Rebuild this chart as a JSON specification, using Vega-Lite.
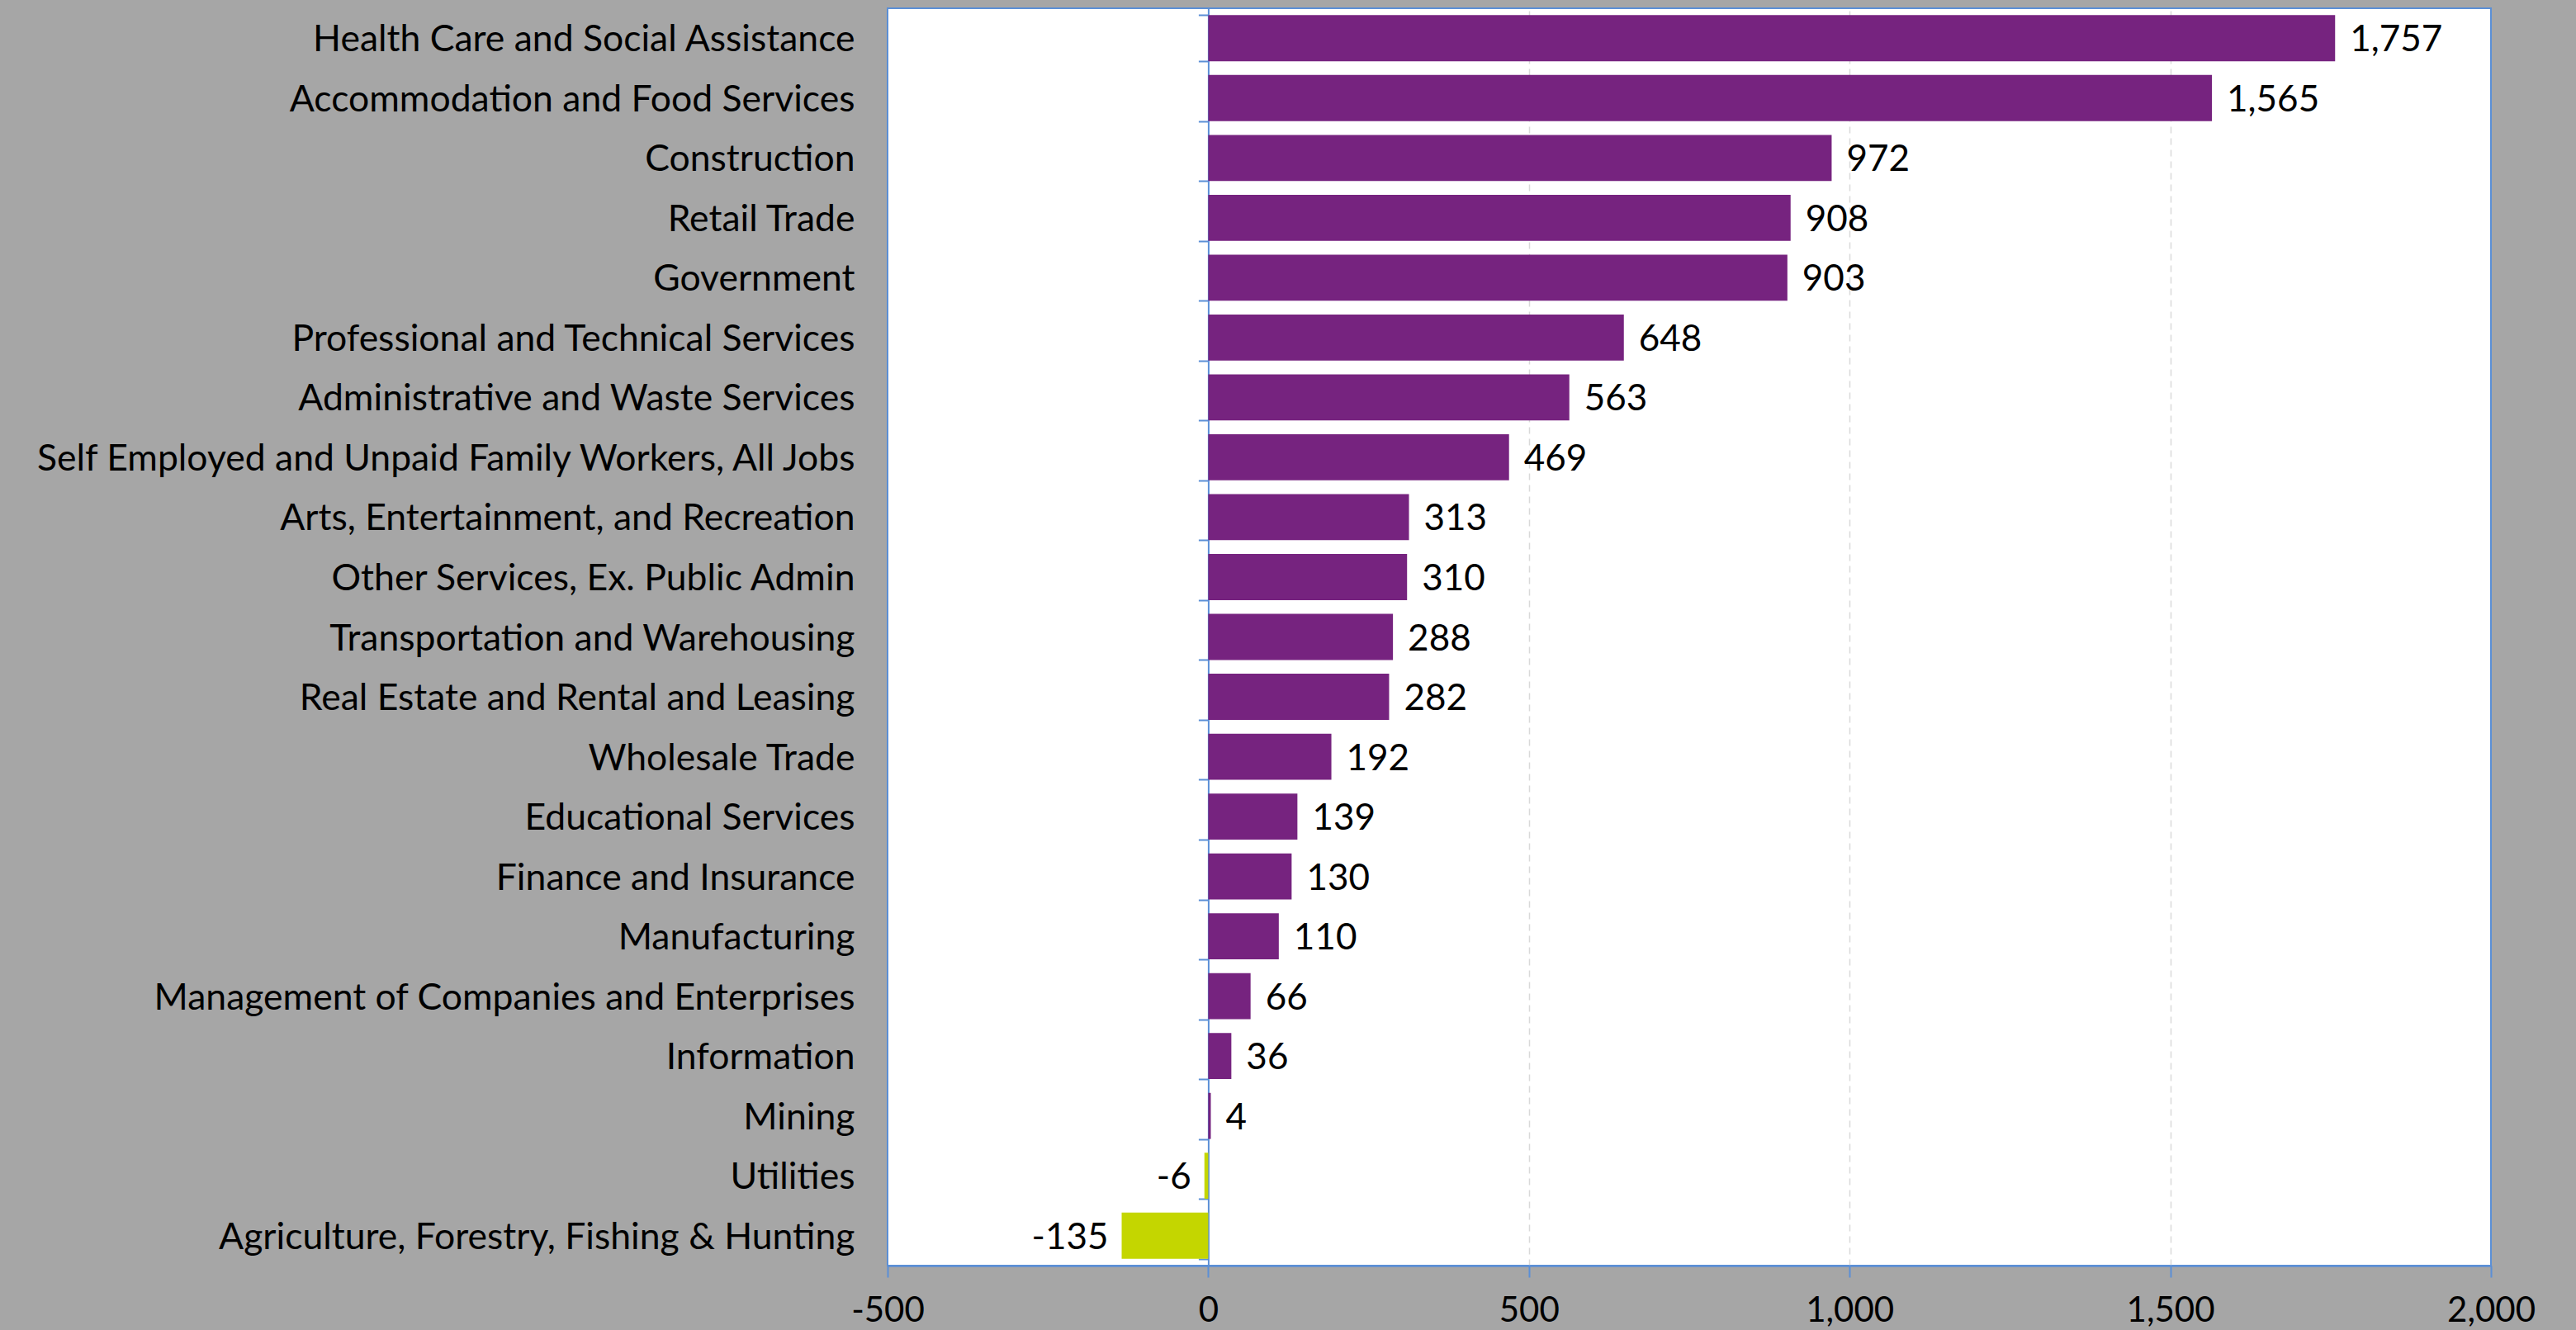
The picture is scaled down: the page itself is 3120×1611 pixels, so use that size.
{
  "$schema": "https://vega.github.io/schema/vega-lite/v6.json",
  "width": 1942,
  "height": 1523,
  "autosize": {"type": "none"},
  "padding": {"left": 1075, "top": 10, "right": 103, "bottom": 78},
  "background": "#A6A6A6",
  "config": {
    "view": {"stroke": "#5B8FD6", "strokeWidth": 2, "fill": "#FFFFFF"},
    "font": "Lato",
    "locale": {"number": {"decimal": ".", "thousands": ",", "grouping": [3], "currency": ["$", ""], "minus": "-"}}
  },
  "data": {
    "values": [
      {"industry": "Health Care and Social Assistance", "value": 1757},
      {"industry": "Accommodation and Food Services", "value": 1565},
      {"industry": "Construction", "value": 972},
      {"industry": "Retail Trade", "value": 908},
      {"industry": "Government", "value": 903},
      {"industry": "Professional and Technical Services", "value": 648},
      {"industry": "Administrative and Waste Services", "value": 563},
      {"industry": "Self Employed and Unpaid Family Workers, All Jobs", "value": 469},
      {"industry": "Arts, Entertainment, and Recreation", "value": 313},
      {"industry": "Other Services, Ex. Public Admin", "value": 310},
      {"industry": "Transportation and Warehousing", "value": 288},
      {"industry": "Real Estate and Rental and Leasing", "value": 282},
      {"industry": "Wholesale Trade", "value": 192},
      {"industry": "Educational Services", "value": 139},
      {"industry": "Finance and Insurance", "value": 130},
      {"industry": "Manufacturing", "value": 110},
      {"industry": "Management of Companies and Enterprises", "value": 66},
      {"industry": "Information", "value": 36},
      {"industry": "Mining", "value": 4},
      {"industry": "Utilities", "value": -6},
      {"industry": "Agriculture, Forestry, Fishing & Hunting", "value": -135}
    ]
  },
  "resolve": {"axis": {"y": "independent"}},
  "layer": [
    {
      "mark": {"type": "bar"},
      "encoding": {
        "y": {
          "field": "industry", "type": "nominal", "sort": null,
          "scale": {"paddingInner": 0.23, "paddingOuter": 0.115},
          "axis": {"title": null, "orient": "left", "domain": false, "ticks": false, "labelPadding": 40, "labelOffset": 3, "labelFontSize": 44.5, "labelColor": "#000000", "labelFont": "Lato", "labelLimit": 1200}
        },
        "x": {
          "field": "value", "type": "quantitative",
          "scale": {"domain": [-500, 2000], "nice": false, "zero": false},
          "axis": {"title": null, "values": [-500, 0, 500, 1000, 1500, 2000], "format": ",d", "grid": true, "gridColor": "#D9D9D9", "gridDash": [8, 6], "gridWidth": 1.5, "gridOpacity": {"condition": {"test": "datum.value == -500 || datum.value == 2000 || datum.value == 0", "value": 0}, "value": 1}, "domainColor": "#5B8FD6", "domainWidth": 2.5, "tickColor": "#5B8FD6", "tickSize": 14, "tickWidth": 2, "labelPadding": 20, "labelFontSize": 42, "labelColor": "#000000", "labelFont": "Lato", "labelFlush": false}
        },
        "color": {"condition": {"test": "datum.value < 0", "value": "#C4D600"}, "value": "#76237F"}
      }
    },
    {
      "mark": {"type": "tick", "opacity": 0},
      "encoding": {
        "y": {
          "field": "industry", "type": "nominal", "sort": null,
          "axis": {"title": null, "orient": "left", "offset": -388.4, "labels": false, "domain": true, "domainColor": "#5B8FD6", "domainWidth": 2, "ticks": true, "tickBand": "extent", "tickColor": "#5B8FD6", "tickSize": 12, "tickWidth": 2, "grid": false}
        },
        "x": {"field": "value", "type": "quantitative"}
      }
    },
    {
      "transform": [{"filter": "datum.value >= 0"}],
      "mark": {"type": "text", "align": "left", "baseline": "middle", "dx": 18, "dy": 3, "fontSize": 44, "font": "Lato", "color": "#000000"},
      "encoding": {
        "y": {"field": "industry", "type": "nominal", "sort": null, "axis": null},
        "x": {"field": "value", "type": "quantitative"},
        "text": {"field": "value", "type": "quantitative", "format": ",d"}
      }
    },
    {
      "transform": [{"filter": "datum.value < 0"}],
      "mark": {"type": "text", "align": "right", "baseline": "middle", "dx": -16, "dy": 3, "fontSize": 44, "font": "Lato", "color": "#000000"},
      "encoding": {
        "y": {"field": "industry", "type": "nominal", "sort": null, "axis": null},
        "x": {"field": "value", "type": "quantitative"},
        "text": {"field": "value", "type": "quantitative", "format": ",d"}
      }
    }
  ]
}
